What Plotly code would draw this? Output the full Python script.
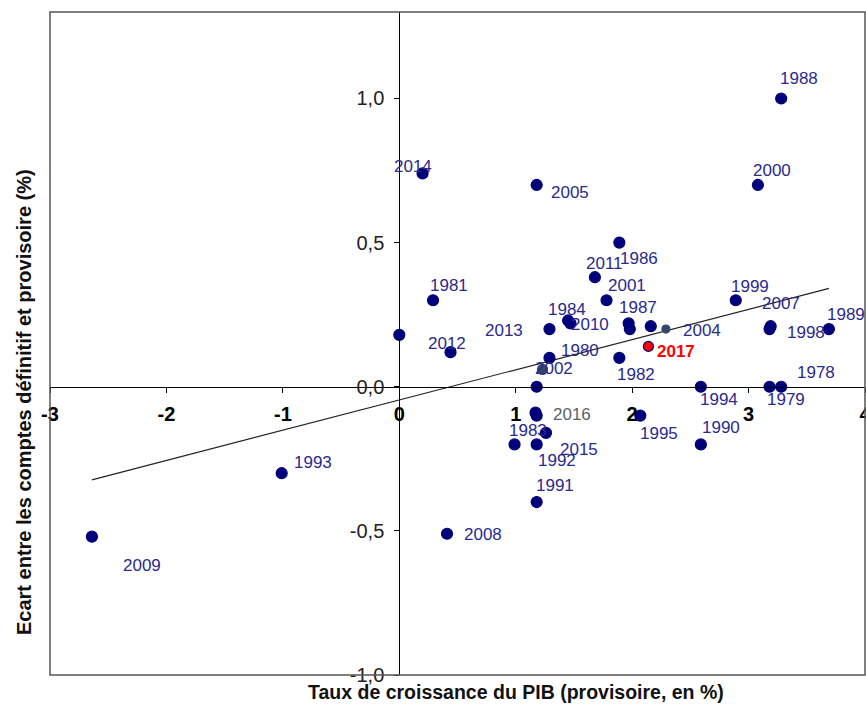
import plotly.graph_objects as go
import numpy as np

# ---------------- data ----------------
years = [1978, 1979, 1980, 1981, 1982, 1983, 1984, 1985, 1986, 1987,
         1988, 1989, 1990, 1991, 1992, 1993, 1994, 1995, 1996, 1997,
         1998, 1999, 2000, 2001, 2002, 2003, 2004, 2005, 2006, 2007,
         2008, 2009, 2010, 2011, 2012, 2013, 2014, 2015, 2016, 2017]
# provisional GDP growth (%)
growth = [3.28, 3.18, 1.29, 0.29, 1.89, 0.99, 1.45, 1.98, 1.89, 1.97,
          3.28, 3.69, 2.59, 1.18, 1.18, -1.01, 2.59, 2.07, 2.16, 1.23,
          3.18, 2.89, 3.08, 1.78, 1.18, 0.00, 2.29, 1.18, 1.18, 3.19,
          0.41, -2.64, 1.47, 1.68, 0.44, 1.29, 0.20, 1.26, 1.17, 2.14]
# gap between final and provisional accounts (%)
gap = [0.00, 0.00, 0.10, 0.30, 0.10, -0.20, 0.23, 0.20, 0.50, 0.22,
       1.00, 0.20, -0.20, -0.40, -0.20, -0.30, 0.00, -0.10, 0.21, 0.06,
       0.20, 0.30, 0.70, 0.30, 0.00, 0.18, 0.20, 0.70, -0.10, 0.21,
       -0.51, -0.52, 0.22, 0.38, 0.12, 0.20, 0.74, -0.16, -0.09, 0.14]
unlabeled = [1985, 1996, 1997, 2003, 2006]

x_ticks = [-3, -2, -1, 0, 1, 2, 3, 4]
x_ticktext = ["-3", "-2", "-1", "0", "1", "2", "3", "4"]
y_ticks = [-1.0, -0.5, 0.0, 0.5, 1.0]
y_ticktext = ["-1,0", "-0,5", "0,0", "0,5", "1,0"]

x_title = "Taux de croissance du PIB (provisoire, en %)"
y_title = "Ecart entre les comptes définitif et provisoire (%)"

# ---------------- styles ----------------
NAVY = "#00007a"
LABEL_COLOR = "#2a2a8c"
GREY_DOT = "#34466a"
FONT = "Liberation Sans, Arial, sans-serif"

# label offsets (pixels, dx right, dy down) relative to the point
label_offsets = {
    1978: (35, -14), 1979: (16, 13), 1980: (31, -7), 1981: (16, -15),
    1982: (17, 17), 1983: (13, -14), 1984: (-1, -11), 1986: (20, 16),
    1987: (9, -16), 1988: (18, -20), 1989: (17, -15), 1990: (20, -17),
    1991: (18, -17), 1992: (20, 16), 1993: (31, -11), 1994: (18, 13),
    1995: (19, 18), 1998: (36, 3), 1999: (14, -14), 2000: (14, -14),
    2001: (20, -15), 2002: (17, -18), 2004: (36, 1), 2005: (33, 8),
    2007: (10, -23), 2008: (36, 1), 2009: (50, 29), 2010: (20, 1),
    2011: (10, -14), 2012: (-4, -9), 2013: (-45, 1), 2014: (-10, -7),
    2015: (33, 17), 2016: (36, 2), 2017: (28, 5),
}

colors, sizes, line_colors = [], [], []
for yr in years:
    if yr == 2017:
        colors.append("#ff0000"); sizes.append(10); line_colors.append(NAVY)
    elif yr == 2004:
        colors.append(GREY_DOT); sizes.append(8); line_colors.append(GREY_DOT)
    elif yr == 1997:
        colors.append(GREY_DOT); sizes.append(10); line_colors.append(GREY_DOT)
    else:
        colors.append(NAVY); sizes.append(11); line_colors.append(NAVY)

fig = go.Figure()

# trend line (OLS fit on the data)
slope, intercept = np.polyfit(growth, gap, 1)
xl = np.array([min(growth), max(growth)])
fig.add_trace(go.Scatter(x=xl, y=slope * xl + intercept, mode="lines",
                         line=dict(color="#222222", width=1.2),
                         hoverinfo="skip"))

fig.add_trace(go.Scatter(
    x=growth, y=gap, mode="markers",
    marker=dict(color=colors, size=sizes, opacity=1,
                line=dict(color=line_colors, width=1.2)),
    text=[str(y) for y in years], hoverinfo="text", cliponaxis=False))

W, H = 866, 706
ml, mr, mt, mb = 50, 1, 12, 31
pw, ph = W - ml - mr, H - mt - mb

annotations = []
for yr, gx, gy in zip(years, growth, gap):
    if yr in unlabeled:
        continue
    dx, dy = label_offsets.get(yr, (18, -14))
    if yr == 2017:
        f = dict(family=FONT, size=17, color="#ff0000", weight="bold")
    elif yr == 2016:
        f = dict(family=FONT, size=17, color="#5a5f66")
    else:
        f = dict(family=FONT, size=17, color=LABEL_COLOR)
    annotations.append(dict(x=gx, y=gy, xref="x", yref="y", text=str(yr),
                            showarrow=False, xshift=dx, yshift=-dy, font=f,
                            xanchor="center", yanchor="middle"))


def px_to_paper(px, py):
    return ((px - ml) / pw, 1 - (py - mt) / ph)


tx, ty = px_to_paper(516, 692)
annotations.append(dict(x=tx, y=ty, xref="paper", yref="paper", text=x_title,
                        showarrow=False, xanchor="center", yanchor="middle",
                        font=dict(family=FONT, size=19.5, color="#111", weight="bold")))
tx, ty = px_to_paper(24, 402)
annotations.append(dict(x=tx, y=ty, xref="paper", yref="paper", text=y_title,
                        textangle=-90, showarrow=False, xanchor="center", yanchor="middle",
                        font=dict(family=FONT, size=20, color="#111", weight="bold")))

xr = [-3, 4]
yr_ = [-1.0, 1.3]

fig.update_layout(
    width=W, height=H,
    margin=dict(l=ml, r=mr, t=mt, b=mb),
    paper_bgcolor="white", plot_bgcolor="white",
    showlegend=False,
    annotations=annotations,
    shapes=[dict(type="rect", xref="paper", yref="paper", x0=0, x1=1, y0=0, y1=1,
                 line=dict(color="#555555", width=1.5), layer="above")],
    xaxis=dict(range=xr, anchor="free", position=(0 - yr_[0]) / (yr_[1] - yr_[0]),
               tickvals=x_ticks, ticktext=x_ticktext,
               tickfont=dict(family=FONT, size=20, color="black", weight="bold"),
               ticks="outside", ticklen=5, tickcolor="black", tickwidth=1,
               ticklabelstandoff=4, ticklabeloverflow="allow",
               showline=True, linecolor="black", linewidth=1,
               showgrid=False, zeroline=False, automargin=False),
    yaxis=dict(range=yr_, anchor="free", position=(0 - xr[0]) / (xr[1] - xr[0]),
               tickvals=y_ticks, ticktext=y_ticktext,
               tickfont=dict(family=FONT, size=20, color="#222"),
               ticks="outside", ticklen=5, tickcolor="black", tickwidth=1,
               ticklabelstandoff=6, ticklabeloverflow="allow",
               showline=True, linecolor="black", linewidth=1,
               showgrid=False, zeroline=False, automargin=False),
)

fig.write_html("out.html",
               config={"displayModeBar": False},
               post_script="document.body.style.margin='0';document.body.style.overflow='hidden';")
